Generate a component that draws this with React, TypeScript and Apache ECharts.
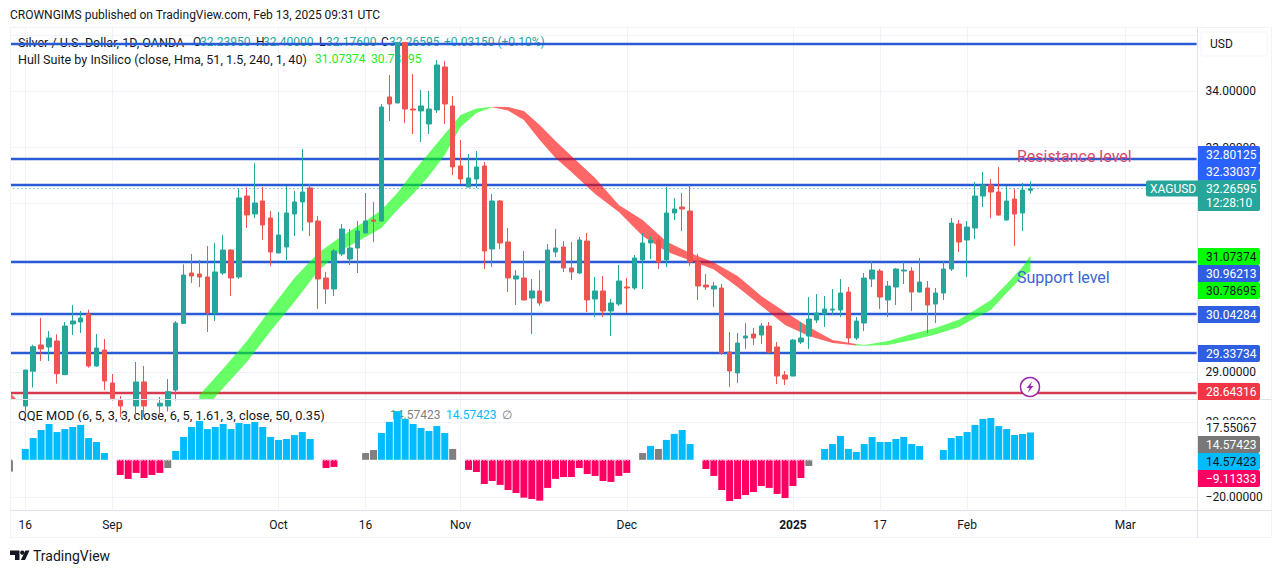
import React, { useEffect, useRef } from "react";
import * as echarts from "echarts";

const FONT = "Roboto, sans-serif";
const holidays = ["2024-12-25", "2025-01-01"];
const tickDates = ["2024-08-16", "2024-09-02", "2024-10-01", "2024-10-16", "2024-11-01", "2024-12-02", "2025-01-02", "2025-01-17", "2025-02-03", "2025-03-03"];
const tickLabels = ["16", "Sep", "Oct", "16", "Nov", "Dec", "2025", "17", "Feb", "Mar"];

// first candle is Aug 16 2024
const opens = [
  28.40,29.02,29.486,29.45,29.557,28.958,29.86,29.895,30.037,29.112,
  29.397,28.81,28.50,28.40,28.40,28.828,28.40,28.40,28.40,28.685,
  29.87,30.767,30.749,30.696,30.055,30.767,31.176,30.696,32.137,31.817,
  32.048,31.746,31.123,31.23,31.817,32.031,32.28,31.692,30.678,30.482,
  31.105,31.016,31.212,31.479,31.71,31.692,33.899,33.792,34.87,33.685,
  33.65,33.418,33.668,34.433,33.739,32.671,32.297,32.44,32.671,31.194,
  32.048,31.319,30.66,30.678,30.322,30.447,30.269,31.141,31.23,30.856,
  30.767,31.336,30.304,30.447,30.091,30.215,30.518,30.5,31.0,31.301,
  31.354,31.0,31.835,31.941,31.87,30.963,30.553,30.482,30.5,29.36,
  28.988,29.61,29.682,29.664,29.823,29.45,28.952,28.934,29.539,29.645,
  29.93,30.037,30.108,30.108,30.428,29.61,29.877,30.66,30.802,30.286,
  30.517,30.802,30.802,30.428,30.5,30.215,30.411,30.838,31.638,31.354,
  31.567,32.137,32.332,32.208,31.71,32.083,31.834,32.2395,
];
const closes = [
  29.04,29.456,29.415,29.61,28.976,29.824,29.913,29.966,29.112,29.432,
  28.845,28.537,28.40,28.30,28.828,28.40,28.45,28.45,28.655,29.877,
  30.731,30.714,30.696,30.055,30.785,31.176,30.678,32.102,31.80,32.013,
  31.621,31.141,31.443,31.835,32.031,32.208,31.674,30.66,30.482,31.158,
  31.55,31.212,31.514,31.692,31.688,33.72,33.774,34.87,33.685,33.667,
  33.739,33.685,34.468,33.774,32.653,32.44,32.458,32.653,31.158,32.048,
  31.301,30.678,30.714,30.287,30.447,30.233,31.176,31.212,30.856,30.785,
  31.354,30.287,30.447,30.091,30.233,30.625,30.5,31.034,31.301,31.354,
  30.963,31.835,31.906,31.906,30.963,30.536,30.518,30.536,29.344,29.023,
  29.521,29.646,29.61,29.824,29.361,28.934,28.88,29.574,29.61,29.948,
  30.055,30.126,30.126,30.411,29.61,29.912,30.677,30.82,30.339,30.535,
  30.838,30.82,30.428,30.606,30.197,30.411,30.838,31.656,31.318,31.585,
  32.137,32.332,32.208,31.798,32.048,31.816,32.243,32.26595,
];
const highs = [
  29.04,29.49,29.97,29.735,29.676,29.895,30.198,30.09,30.115,29.682,
  29.593,28.97,28.58,28.48,29.183,29.112,28.50,28.56,28.881,29.913,
  30.921,31.105,30.998,31.247,31.30,31.443,31.19,32.274,32.291,32.719,
  32.297,31.87,31.853,32.315,32.226,32.974,32.351,31.781,30.785,31.194,
  31.639,31.55,31.692,32.19,32.03,33.775,34.29,34.87,34.87,34.308,
  34.023,34.006,34.557,34.539,33.917,33.134,32.885,32.938,32.742,32.173,
  32.066,31.568,30.82,31.158,30.66,30.82,31.283,31.55,31.336,31.319,
  31.408,31.479,30.696,30.714,30.304,30.909,30.678,31.087,31.479,31.425,
  31.443,32.297,32.102,32.19,32.333,31.105,30.749,30.607,30.571,29.717,
  29.699,29.877,29.788,29.877,29.895,29.539,29.023,29.59,29.895,30.339,
  30.393,30.357,30.482,30.66,30.517,29.983,30.766,30.98,30.838,30.624,
  30.856,30.962,30.873,31.033,30.624,30.5,30.98,31.745,31.71,31.692,
  32.386,32.564,32.439,32.653,32.314,32.261,32.368,32.40,
];
const lows = [
  28.30,28.73,29.20,29.20,28.798,28.95,29.664,29.70,29.083,29.10,
  28.685,28.50,28.20,28.20,28.20,28.20,28.20,28.20,28.30,28.50,
  29.86,30.589,30.518,29.717,29.913,30.731,30.358,30.66,31.568,31.746,
  31.354,30.892,31.12,30.998,31.425,31.514,31.425,30.126,30.215,30.358,
  31.069,30.909,30.767,31.47,31.319,31.68,33.472,33.79,33.436,33.24,
  33.098,33.24,33.614,33.418,32.511,32.351,32.29,32.28,30.838,30.874,
  31.194,30.429,30.198,30.28,29.682,30.18,30.26,31.052,30.785,30.642,
  30.749,30.073,29.984,29.984,29.646,30.18,30.055,30.465,30.482,31.016,
  30.838,30.874,31.71,31.514,30.892,30.287,30.465,30.162,29.308,28.738,
  28.81,29.415,29.486,29.504,29.34,28.791,28.774,28.93,29.503,29.414,
  29.877,29.806,30.019,29.983,29.503,29.574,29.734,30.517,30.126,29.983,
  30.197,30.571,30.09,30.42,29.699,29.877,30.286,30.802,31.14,30.695,
  31.371,31.941,31.745,31.79,31.7,31.247,31.514,32.176,
];

// Hull Suite band, read at sampled bars
const hullRedBars0 = [0, 1];
const hullRedUpper0 = [28.65, 28.5];
const hullRedLower0 = [28.3, 28.2];
const hullGreenBars1 = [24, 27, 30, 33, 36, 39, 42, 45, 47, 49, 51, 53, 55, 57, 59, 61];
const hullGreenUpper1 = [28.596, 29.062, 29.557, 30.126, 30.678, 31.123, 31.425, 31.692, 31.888, 32.19, 32.564, 32.902, 33.24, 33.578, 33.694, 33.726];
const hullGreenLower1 = [28.24, 28.721, 29.183, 29.735, 30.251, 30.803, 31.176, 31.408, 31.568, 31.888, 32.173, 32.493, 32.867, 33.365, 33.614, 33.715];
const hullRedBars2 = [61, 63, 65, 67, 69, 71, 74, 77, 80, 83, 86, 89, 92, 95, 98, 101, 104, 107];
const hullRedUpper2 = [33.726, 33.721, 33.649, 33.4, 33.116, 32.849, 32.457, 31.977, 31.71, 31.327, 31.123, 30.954, 30.714, 30.358, 30.073, 29.806, 29.575, 29.504];
const hullRedLower2 = [33.715, 33.658, 33.489, 33.133, 32.813, 32.564, 32.173, 31.852, 31.425, 31.149, 30.989, 30.829, 30.518, 30.18, 29.842, 29.646, 29.521, 29.477];
const hullGreenBars3 = [107, 108, 111, 114, 117, 120, 122, 124, 126, 128, 129];
const hullGreenUpper3 = [29.504, 29.486, 29.557, 29.681, 29.788, 29.94, 30.109, 30.287, 30.571, 30.874, 31.07374];
const hullGreenLower3 = [29.477, 29.473, 29.486, 29.569, 29.673, 29.806, 29.966, 30.109, 30.411, 30.705, 30.80];

const blueLevels = [34.842, 32.80125, 32.33037, 30.96213, 30.04284, 29.33734];
const redLevels = [28.64316];
const lastPrice = [32.26595];
const priceGrid = [29, 30, 31, 32, 33, 34, 35];
const priceLabels = [29, 33, 34];
const qqeGrid = [-20, 20];

// QQE histogram, first value is Aug 14 2024
const qqeValues = [
  -6.3, null,
  5.8,11.6,15.9,19.1,14.8,16.4,17.5,18.6,11.6,9.5,3.6, null,
  -8.1,-10.2,-7,-9.7,-8.1,-7,-4.4,
  4.7,12.2,17.5,20.7,16.4,17.5,19.1,16.4,19.6,19.1,20.2,17.5,12.2,10.6,11.1,13.2,14.8,11.1, null,
  -4.4,-3.8, null,null,null,
  3.6,5.2,14.3,20.2,26,21.8,19.1,17,15.4,18,14.3,5.8, null,
  -5.4,-6.5,-12.9,-11.3,-13.4,-16.1,-17.7,-20.2,-20.9,-21.8,-15,-10.2,-9.2,-9.2,-4.4,-7.6,-8.6,-11.3,-11.8,-8.6,-7, null,
  3.6,7.4,5.8,10.6,13.8,15.9,8.4, null,
  -4.9,-8.6,-16.1,-22,-20.9,-18.8,-17.2,-14,-15,-18.2,-20.4,-14,-9.7,-3.3, null,
  5.8,8.4,12.7,5.8,4.2,8.4,12.2,9.5,9.5,11.1,12.2,8.4,7.4, null,null,
  5.2,11.6,12.7,14.8,18.6,21.8,22.3,18,16.4,13.2,13.8,14.57,
];
const qqeGrayBars = [0, 20, 45, 46, 56, 80, 82, 101];

const priceTags = [
  { label: "32.80125", bg: "#2962ff", fg: "#ffffff" },
  { label: "32.33037", bg: "#2962ff", fg: "#ffffff" },
  { label: "31.07374", bg: "#00ff00", fg: "#131722" },
  { label: "30.96213", bg: "#2f5fe0", fg: "#ffffff" },
  { label: "30.78695", bg: "#00ff00", fg: "#131722" },
  { label: "30.04284", bg: "#2f5fe0", fg: "#ffffff" },
  { label: "29.33734", bg: "#2f5fe0", fg: "#ffffff" },
  { label: "28.64316", bg: "#f23645", fg: "#ffffff" },
  { label: "14.57423", bg: "#787878", fg: "#ffffff" },
  { label: "14.57423", bg: "#00bcff", fg: "#131722" },
  { label: "\u22129.11333", bg: "#ff0062", fg: "#ffffff" },
];
const tagTops = [146, 163, 248, 265, 282, 306, 345, 383, 436, 453, 470];

const LEFT = 9.47;
const RIGHT_EDGE = 1196.6;
const TOP_PANE = [27, 399.5];
const BOTTOM_PANE = [400, 510.5];
const yScaleTop = (y: number) => 34 - (y - 91.3) / 56.2;
const yScaleQqe = (y: number) => (459.8 - y) / 1.875;

function buildDates() {
  const out: string[] = [];
  const d = new Date(Date.UTC(2024, 7, 14));
  while (out.length < 151) {
    const s = d.toISOString().slice(0, 10);
    const w = d.getUTCDay();
    if (w !== 0 && w !== 6 && !holidays.includes(s)) out.push(s);
    d.setUTCDate(d.getUTCDate() + 1);
  }
  return out;
}

export default function App() {
  const ref = useRef<HTMLDivElement>(null);
  useEffect(() => {
    document.body.style.margin = "0";
    document.body.style.background = "#fff";
    const chart = echarts.init(ref.current!, undefined, { renderer: "svg" });
    const dates = buildDates();
    const isTick = (_i: number, v: string) => tickDates.includes(v);
    const candles = [
      ["-", "-", "-", "-"],
      ["-", "-", "-", "-"],
      ...opens.map((o, i) => [o, closes[i], lows[i], highs[i]]),
    ];
    const segments = [
      { bars: hullRedBars0, upper: hullRedUpper0, lower: hullRedLower0, fill: "rgba(255,0,0,0.6)" },
      { bars: hullGreenBars1, upper: hullGreenUpper1, lower: hullGreenLower1, fill: "rgba(0,255,0,0.6)" },
      { bars: hullRedBars2, upper: hullRedUpper2, lower: hullRedLower2, fill: "rgba(255,0,0,0.6)" },
      { bars: hullGreenBars3, upper: hullGreenUpper3, lower: hullGreenLower3, fill: "rgba(0,255,0,0.6)" },
    ];
    const qqeColor = (v: number, i: number) =>
      qqeGrayBars.includes(i) ? "#808080" : v > 0 ? "#00bcff" : "#ff0062";

    const txt = (x: number, y: number, text: string, fill: string, z = 1, size = 12) => ({
      type: "text", x, y, z,
      style: { text, fill, font: `normal ${size}px ${FONT}`, textVerticalAlign: "middle", textAlign: "left" },
    });
    const rule = (x1: number, y1: number, x2: number, y2: number, stroke: string, z = 50) => ({
      type: "line", z, silent: true, shape: { x1, y1, x2, y2 }, style: { stroke, lineWidth: 1 },
    });

    const tagEls: any[] = [];
    priceTags.forEach((t, i) => {
      tagEls.push({ type: "rect", z: 60, shape: { x: 1198, y: tagTops[i], width: 62, height: 17, r: [0, 2, 2, 0] }, style: { fill: t.bg } });
      tagEls.push(txt(1206, tagTops[i] + 9, t.label, t.fg, 61));
    });

    const graphic: any[] = [
      // left margin of the panes
      { type: "rect", z: 45, shape: { x: 0, y: 27, width: 10, height: 511 }, style: { fill: "#ffffff" } },
      // frame
      rule(10, 27.5, 1271.5, 27.5, "#f0f3fa"),
      rule(10, 537.5, 1271.5, 537.5, "#f0f3fa"),
      rule(10.5, 27, 10.5, 538, "#f0f3fa"),
      rule(1271.5, 27, 1271.5, 538, "#f0f3fa"),
      rule(1197.5, 27, 1197.5, 538, "#e0e3eb"),
      rule(10, 399.5, 1271.5, 399.5, "#e0e3eb"),
      rule(10, 510.5, 1271.5, 510.5, "#e0e3eb"),
      // header and legends
      txt(10, 15, "CROWNGIMS published on TradingView.com, Feb 13, 2025 09:31 UTC", "#131722"),
      txt(18, 42, "Silver / U.S. Dollar, 1D, OANDA", "#131722", 1, 12.5),
      txt(193, 42, "O", "#131722"),
      txt(200, 42, "32.23950", "#26a69a"),
      txt(256, 42, "H", "#131722"),
      txt(263, 42, "32.40000", "#26a69a"),
      txt(319, 42, "L", "#131722"),
      txt(326, 42, "32.17600", "#26a69a"),
      txt(381, 42, "C", "#131722"),
      txt(389, 42, "32.26595", "#26a69a"),
      txt(444, 42, "+0.03150 (+0.10%)", "#26a69a"),
      txt(18, 59, "Hull Suite by InSilico (close, Hma, 51, 1.5, 240, 1, 40)", "#131722", 1, 12.55),
      txt(315, 59, "31.07374", "#22ee22"),
      txt(371, 59, "30.78695", "#22ee22"),
      txt(18, 415, "QQE MOD (6, 5, 3, 3, close, 6, 5, 1.61, 3, close, 50, 0.35)", "#131722", 1, 12.8),
      txt(390, 415, "14.57423", "#808080"),
      txt(446, 415, "14.57423", "#00bcff"),
      txt(502, 415, "\u2205", "#787b86"),
      // annotations
      txt(1017, 156, "Resistance level", "#d6486d", 40, 16),
      txt(1017, 277, "Support level", "#3b66d6", 40, 16),
      // USD box
      { type: "rect", z: 60, shape: { x: 1201, y: 32, width: 66, height: 24, r: 2 }, style: { fill: "#fff", stroke: "#f0f3fa" } },
      txt(1210, 44, "USD", "#131722", 61),
      // last price tags
      { type: "rect", z: 60, shape: { x: 1146, y: 180.5, width: 52, height: 16, r: [2, 0, 0, 2] }, style: { fill: "#26a69a" } },
      txt(1150, 189, "XAGUSD", "#ffffff", 61),
      { type: "rect", z: 60, shape: { x: 1198, y: 180, width: 62, height: 31, r: [0, 2, 2, 0] }, style: { fill: "#26a69a" } },
      txt(1206, 189, "32.26595", "#ffffff", 61),
      txt(1206, 203, "12:28:10", "#ffffff", 61),
      // plain QQE values
      { type: "rect", z: 58, shape: { x: 1198, y: 420, width: 62, height: 16 }, style: { fill: "#fff" } },
      txt(1206, 428, "17.55067", "#131722", 59),
      ...tagEls,
      // alert icon
      { type: "circle", z: 62, shape: { cx: 1030, cy: 387, r: 9.5 }, style: { fill: "#fff", stroke: "#9c27b0", lineWidth: 1.5 } },
      { type: "polygon", z: 63, shape: { points: [[1032, 381.5], [1026.5, 388], [1029.5, 388], [1028, 392.5], [1033.5, 386], [1030.5, 386]] }, style: { fill: "#9c27b0" } },
      // TradingView logo
      { type: "polygon", z: 40, shape: { points: [[10, 550.5], [19.5, 550.5], [19.5, 560], [15, 560], [15, 555], [10, 555]] }, style: { fill: "#131722" } },
      { type: "circle", z: 40, shape: { cx: 22.3, cy: 552.6, r: 2.2 }, style: { fill: "#131722" } },
      { type: "polygon", z: 40, shape: { points: [[25.5, 550.5], [29.5, 550.5], [25, 560], [20.8, 560]] }, style: { fill: "#131722" } },
      txt(33, 555.5, "TradingView", "#131722", 46, 14),
    ];

    const gridMark = (vals: number[]) => ({
      silent: true, symbol: "none", z: 1, label: { show: false }, animation: false,
      lineStyle: { color: "#f0f3fa", width: 1, type: "solid" },
      data: vals.map((v) => ({ yAxis: v })),
    });
    const levelMark = (vals: number[], color: string, width: number, type: any, z: number) => ({
      silent: true, symbol: "none", z, label: { show: false }, animation: false,
      lineStyle: { color, width, type },
      data: vals.map((v) => ({ yAxis: v })),
    });
    const xAxisBase = {
      type: "category", data: dates, boundaryGap: false,
      axisLine: { show: false }, axisTick: { show: false },
      splitLine: { show: true, interval: isTick, lineStyle: { color: "#f0f3fa", width: 1 } },
    };

    chart.setOption({
      animation: false,
      backgroundColor: "#ffffff",
      graphic,
      grid: [
        { left: LEFT, width: RIGHT_EDGE - LEFT, top: TOP_PANE[0], height: TOP_PANE[1] - TOP_PANE[0] },
        { left: LEFT, width: RIGHT_EDGE - LEFT, top: BOTTOM_PANE[0], height: BOTTOM_PANE[1] - BOTTOM_PANE[0] },
      ],
      xAxis: [
        { ...xAxisBase, gridIndex: 0, axisLabel: { show: false } },
        {
          ...xAxisBase, gridIndex: 1,
          axisLabel: {
            show: true, interval: isTick, margin: 8, color: "#131722", fontFamily: FONT, fontSize: 12,
            formatter: (v: string) => {
              const l = tickLabels[tickDates.indexOf(v)] ?? "";
              return l === "2025" ? `{b|${l}}` : l;
            },
            rich: { b: { fontWeight: "bold", fontFamily: FONT, fontSize: 12, color: "#131722" } },
          },
        },
      ],
      yAxis: [
        {
          type: "value", gridIndex: 0, position: "right", min: yScaleTop(TOP_PANE[1]), max: yScaleTop(TOP_PANE[0]),
          axisLine: { show: false }, axisTick: { show: false }, splitLine: { show: false },
          axisLabel: { show: true, margin: 9, customValues: priceLabels, color: "#131722", fontFamily: FONT, fontSize: 12, formatter: (v: number) => v.toFixed(5) },
        },
        {
          type: "value", gridIndex: 1, position: "right", min: yScaleQqe(BOTTOM_PANE[1]), max: yScaleQqe(BOTTOM_PANE[0]),
          axisLine: { show: false }, axisTick: { show: false }, splitLine: { show: false },
          axisLabel: { show: true, margin: 9, customValues: qqeGrid, color: "#131722", fontFamily: FONT, fontSize: 12, formatter: (v: number) => v.toFixed(5).replace("-", "\u2212") },
        },
      ],
      series: [
        { type: "line", xAxisIndex: 0, yAxisIndex: 0, data: [], showSymbol: false, markLine: gridMark(priceGrid) },
        { type: "line", xAxisIndex: 1, yAxisIndex: 1, data: [], showSymbol: false, markLine: gridMark(qqeGrid) },
        { type: "line", xAxisIndex: 0, yAxisIndex: 0, data: [], showSymbol: false, markLine: levelMark(blueLevels, "#2a5bd7", 2.3, "solid", 2) },
        { type: "line", xAxisIndex: 0, yAxisIndex: 0, data: [], showSymbol: false, markLine: levelMark(redLevels, "#d63a4e", 2.3, "solid", 2) },
        { type: "line", xAxisIndex: 0, yAxisIndex: 0, data: [], showSymbol: false, markLine: levelMark(lastPrice, "#26a69a", 1, [1, 3], 2) },
        {
          type: "custom", xAxisIndex: 0, yAxisIndex: 0, z: 3, clip: true, silent: true,
          data: segments.map((_, k) => [k, 30]),
          encode: { x: 0, y: 1 },
          renderItem: (params: any, api: any) => {
            const s = segments[params.dataIndex];
            const top = s.bars.map((b, i) => api.coord([b, s.upper[i]]));
            const bot = s.bars.map((b, i) => api.coord([b, s.lower[i]])).reverse();
            return { type: "polygon", shape: { points: [...top, ...bot] }, style: { fill: s.fill } };
          },
        },
        {
          type: "candlestick", xAxisIndex: 0, yAxisIndex: 0, z: 4, barWidth: 5, clip: true,
          itemStyle: { color: "#26a69a", color0: "#ef5350", borderColor: "#26a69a", borderColor0: "#ef5350", borderWidth: 1 },
          data: candles,
        },
        {
          type: "bar", xAxisIndex: 1, yAxisIndex: 1, z: 4, barWidth: 7,
          data: qqeValues.map((v, i) => (v === null ? { value: "-" } : { value: v, itemStyle: { color: qqeColor(v, i) } })),
          markLine: { silent: true, symbol: "none", z: 5, label: { show: false }, animation: false, lineStyle: { color: "#ffffff", width: 1, type: [1, 2] }, data: [{ yAxis: 0 }] },
        },
      ],
    });
    return () => chart.dispose();
  }, []);
  return <div ref={ref} style={{ position: "absolute", left: 0, top: 0, width: 1281, height: 573 }} />;
}
